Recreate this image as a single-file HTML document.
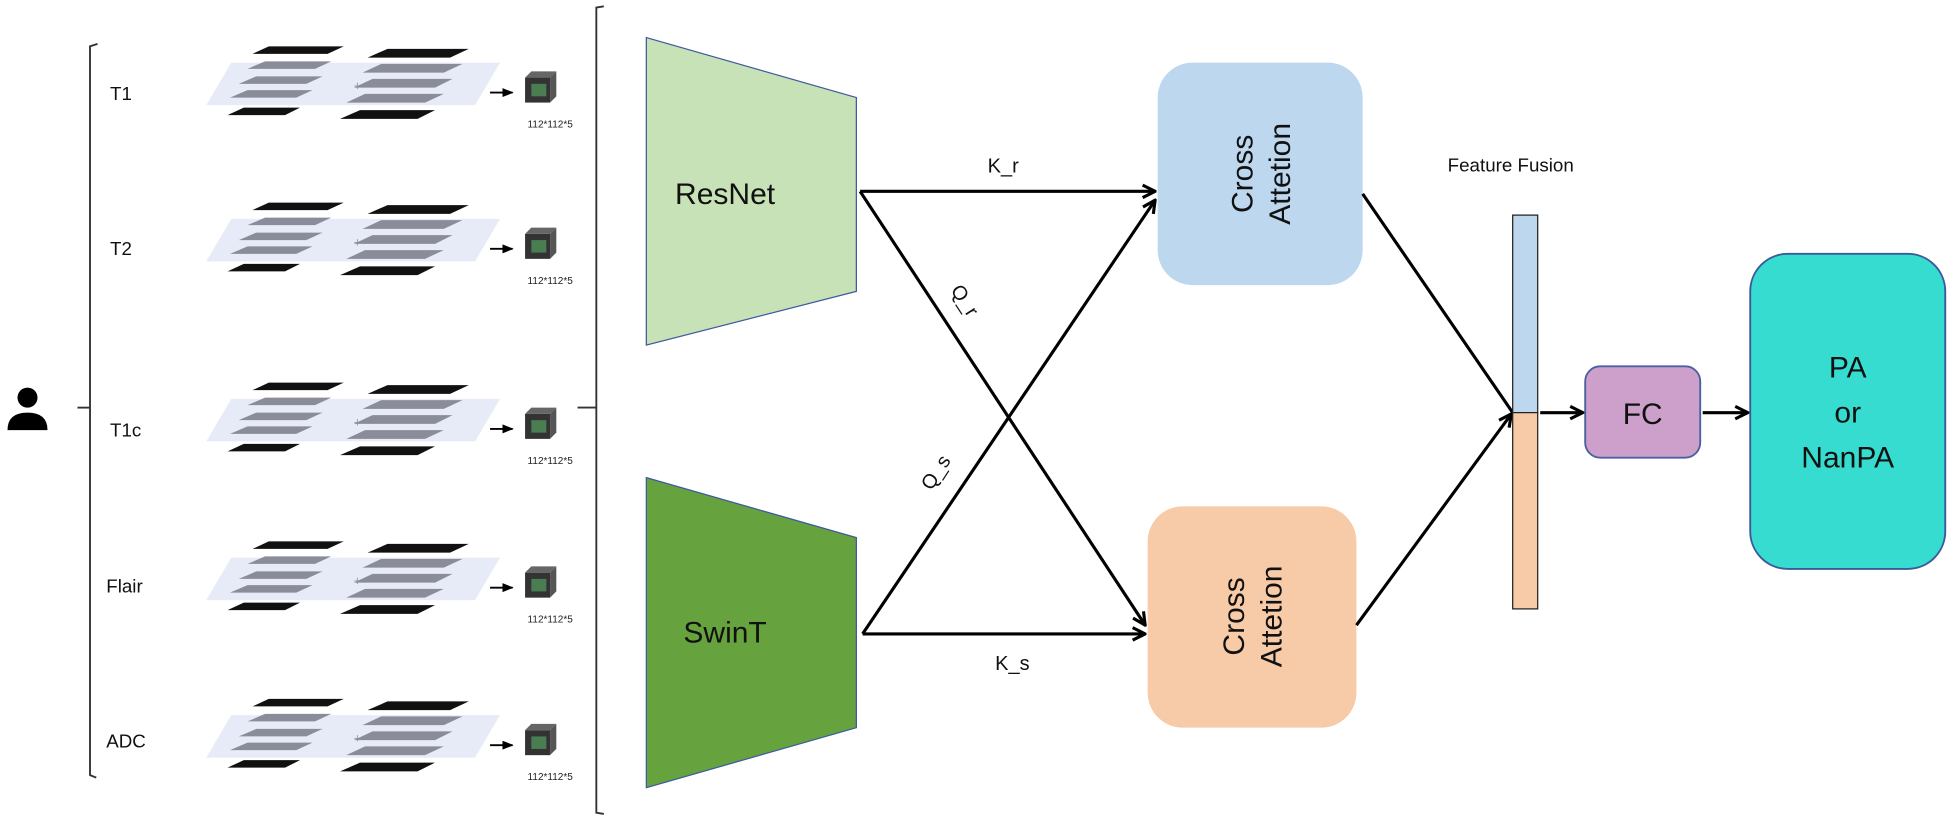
<!DOCTYPE html>
<html><head><meta charset="utf-8"><style>html,body{margin:0;padding:0;background:#fff}svg{display:block}text{font-family:"Liberation Sans",Arial,sans-serif}</style></head>
<body>
<svg width="1949" height="819" viewBox="0 0 1559 655" xmlns="http://www.w3.org/2000/svg">
<defs>
<marker id="ah" viewBox="0 0 10 10" refX="9" refY="5" markerWidth="5" markerHeight="5" orient="auto"><path d="M1,1 L9,5 L1,9" fill="none" stroke="#000" stroke-width="2"/></marker>
<marker id="sa" viewBox="0 0 10 10" refX="9" refY="5" markerWidth="6" markerHeight="6" orient="auto"><path d="M0,1 L10,5 L0,9 z" fill="#000"/></marker>
<g id="stack">
  <polygon points="185,-17 400,-17 380,17 165,17" fill="#e6ebf7"/>
  <polygon points="215,-30 275,-30 262,-24 202,-24" fill="#111"/>
  <polygon points="212,-18 265,-18 252,-12 198,-12" fill="#8a8d99"/>
  <polygon points="205,-6 258,-6 245,0 191,0" fill="#8a8d99"/>
  <polygon points="198,5 250,5 237,11 184,11" fill="#8a8d99"/>
  <polygon points="195,19 240,19 228,25 182,25" fill="#111"/>
  <text x="283" y="5" font-size="10" fill="#999">+</text>
  <polygon points="310,-28 375,-28 360,-21 294,-21" fill="#111"/>
  <polygon points="305,-16 370,-16 355,-9 290,-9" fill="#8a8d99"/>
  <polygon points="298,-4 362,-4 348,3 283,3" fill="#8a8d99"/>
  <polygon points="292,8 355,8 340,15 277,15" fill="#8a8d99"/>
  <polygon points="288,21 348,21 334,28 272,28" fill="#111"/>
  <line x1="392" y1="7" x2="410" y2="7" stroke="#000" stroke-width="1.5" marker-end="url(#sa)"/>
  <rect x="420" y="-5" width="20" height="20" fill="#333"/>
  <polygon points="420,-5 425,-10 445,-10 440,-5" fill="#666"/>
  <polygon points="440,-5 445,-10 445,10 440,15" fill="#555"/>
  <rect x="425" y="0" width="12" height="10" fill="#4a7d52"/>
  <text x="422" y="35" font-size="8" fill="#222">112*112*5</text>
</g>
</defs>
<circle cx="22" cy="318" r="8" fill="#000"/>
<path d="M6,344 Q6,330 22,330 Q38,330 38,344 Z" fill="#000"/>
<path d="M78,35 L72,37 L72,620 L77,622" fill="none" stroke="#333" stroke-width="1.5"/>
<line x1="62" y1="326" x2="72" y2="326" stroke="#333" stroke-width="1.5"/>
<g font-size="15" fill="#111">
<text x="88" y="80">T1</text><text x="88" y="204">T2</text><text x="88" y="349">T1c</text><text x="85" y="474">Flair</text><text x="85" y="598">ADC</text></g>
<use href="#stack" y="67"/>
<use href="#stack" y="192"/>
<use href="#stack" y="336"/>
<use href="#stack" y="463"/>
<use href="#stack" y="589"/>
<path d="M483,5 L477,6 L477,650 L483,651" fill="none" stroke="#333" stroke-width="1.5"/>
<line x1="462" y1="326" x2="477" y2="326" stroke="#333" stroke-width="1.5"/>
<polygon points="517,30 685,78 685,233 517,276" fill="#c8e2b7" stroke="#3d5a9e" stroke-width="1"/>
<text x="580" y="163" font-size="24" text-anchor="middle" fill="#111">ResNet</text>
<polygon points="517,382 685,430 685,582 517,630" fill="#66a33f" stroke="#3d5a9e" stroke-width="1"/>
<text x="580" y="514" font-size="24" text-anchor="middle" fill="#111">SwinT</text>
<rect x="926" y="50" width="164" height="178" rx="28" fill="#bdd7ee"/>
<text transform="translate(1008,139) rotate(-90)" font-size="24" text-anchor="middle" fill="#111"><tspan x="0" y="-6">Cross</tspan><tspan x="0" y="24">Attetion</tspan></text>
<rect x="918" y="405" width="167" height="177" rx="28" fill="#f8cba8"/>
<text transform="translate(1001,493) rotate(-90)" font-size="24" text-anchor="middle" fill="#111"><tspan x="0" y="-6">Cross</tspan><tspan x="0" y="24">Attetion</tspan></text>
<g stroke="#000" stroke-width="2.5" fill="none">
<line x1="688" y1="153" x2="924" y2="153" marker-end="url(#ah)"/>
<line x1="688" y1="153" x2="916" y2="500" marker-end="url(#ah)"/>
<line x1="690" y1="507" x2="924" y2="160" marker-end="url(#ah)"/>
<line x1="690" y1="507" x2="916" y2="507" marker-end="url(#ah)"/>
<line x1="1090" y1="155" x2="1210" y2="330"/>
<line x1="1085" y1="500" x2="1209" y2="331" marker-end="url(#ah)"/>
<line x1="1232" y1="330" x2="1266" y2="330" marker-end="url(#ah)"/>
<line x1="1362" y1="330" x2="1398" y2="330" marker-end="url(#ah)"/>
</g>
<g font-size="16" fill="#111">
<text x="790" y="138">K_r</text>
<text x="796" y="536">K_s</text>
<text transform="translate(760,232) rotate(57)">Q_r</text>
<text transform="translate(745,393) rotate(-57)">Q_s</text>
</g>
<text x="1158" y="137" font-size="15" fill="#111">Feature Fusion</text>
<rect x="1210" y="172" width="20" height="158" fill="#bdd7ee" stroke="#222" stroke-width="1"/>
<rect x="1210" y="330" width="20" height="157" fill="#f8cba8" stroke="#222" stroke-width="1"/>
<rect x="1268" y="293" width="92" height="73" rx="12" fill="#cda0cc" stroke="#4c5fa0" stroke-width="1.5"/>
<text x="1314" y="339" font-size="24" text-anchor="middle" fill="#111">FC</text>
<rect x="1400" y="203" width="156" height="252" rx="30" fill="#36dccf" stroke="#3a5a9a" stroke-width="1.5"/>
<g font-size="24" text-anchor="middle" fill="#111">
<text x="1478" y="302">PA</text><text x="1478" y="338">or</text><text x="1478" y="374">NanPA</text></g>
</svg>
</body></html>
